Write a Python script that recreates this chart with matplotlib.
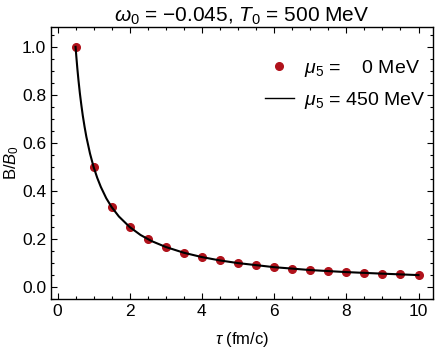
import matplotlib
matplotlib.use("Agg")
import matplotlib.pyplot as plt
from matplotlib.ticker import MultipleLocator

plt.rcParams["font.family"] = ["Liberation Sans", "DejaVu Sans"]
plt.rcParams["mathtext.fontset"] = "custom"
plt.rcParams["mathtext.rm"] = "Liberation Sans"
plt.rcParams["mathtext.it"] = "Liberation Sans:italic"

# mu5 = 0 MeV (points)
tau_pts = [0.5, 1.0, 1.5, 2.0, 2.5, 3.0, 3.5, 4.0, 4.5, 5.0,
           5.5, 6.0, 6.5, 7.0, 7.5, 8.0, 8.5, 9.0, 9.5, 10.0]
b_pts = [1.0, 0.5, 0.333, 0.25, 0.2, 0.167, 0.143, 0.125, 0.111, 0.1,
         0.091, 0.083, 0.077, 0.071, 0.067, 0.0625, 0.059, 0.056, 0.053, 0.05]

# mu5 = 450 MeV (line)
tau_line = [0.5, 0.52, 0.55, 0.58, 0.62, 0.66, 0.7, 0.75, 0.8, 0.9, 1.0,
            1.1, 1.2, 1.35, 1.5, 1.7, 2.0, 2.3, 2.6, 3.0, 3.5, 4.0, 4.5,
            5.0, 6.0, 7.0, 8.0, 9.0, 10.0]
b_line = [1.0, 0.962, 0.909, 0.862, 0.806, 0.758, 0.714, 0.667, 0.625,
          0.556, 0.5, 0.455, 0.417, 0.370, 0.333, 0.294, 0.25, 0.217,
          0.192, 0.167, 0.143, 0.125, 0.111, 0.1, 0.083, 0.071, 0.0625,
          0.056, 0.05]

fig = plt.figure(figsize=(4.36, 3.54), dpi=100)
ax = fig.add_axes([0.117, 0.155, 0.876, 0.769])

ax.plot(tau_pts, b_pts, "o", color="#b0121b", ms=5.5, zorder=2,
        label=r"$\mu_5$ =    0 MeV")
ax.plot(tau_line, b_line, "-", color="black", lw=1.5, zorder=3,
        label=r"$\mu_5$ = 450 MeV")

ax.set_xlim(-0.18, 10.4)
ax.set_ylim(-0.05, 1.083)
ax.xaxis.set_major_locator(MultipleLocator(2))
ax.xaxis.set_minor_locator(MultipleLocator(0.5))
ax.yaxis.set_major_locator(MultipleLocator(0.2))
ax.yaxis.set_minor_locator(MultipleLocator(0.05))
ax.tick_params(which="both", direction="in", top=True, right=True,
               labelsize=12.5, width=0.8)
ax.tick_params(which="major", length=4)
ax.tick_params(which="minor", length=2)
for s in ax.spines.values():
    s.set_linewidth(1.0)

ax.set_xlabel(r"$\tau$ (fm/c)", fontsize=12, labelpad=8)
ax.set_ylabel(r"B/$B_0$", fontsize=12, labelpad=1)
ax.set_title(r"$\omega_0$ = $-$0.045, $T_0$ = 500 MeV", fontsize=15, pad=4)

leg = ax.legend(loc="upper right", frameon=False, fontsize=14,
                handlelength=1.5, handletextpad=0.5, borderaxespad=0,
                labelspacing=0.55, bbox_to_anchor=(1.0, 0.915))
leg.get_lines()[1].set_linewidth(1.0)

fig.savefig("out.png", dpi=100)
